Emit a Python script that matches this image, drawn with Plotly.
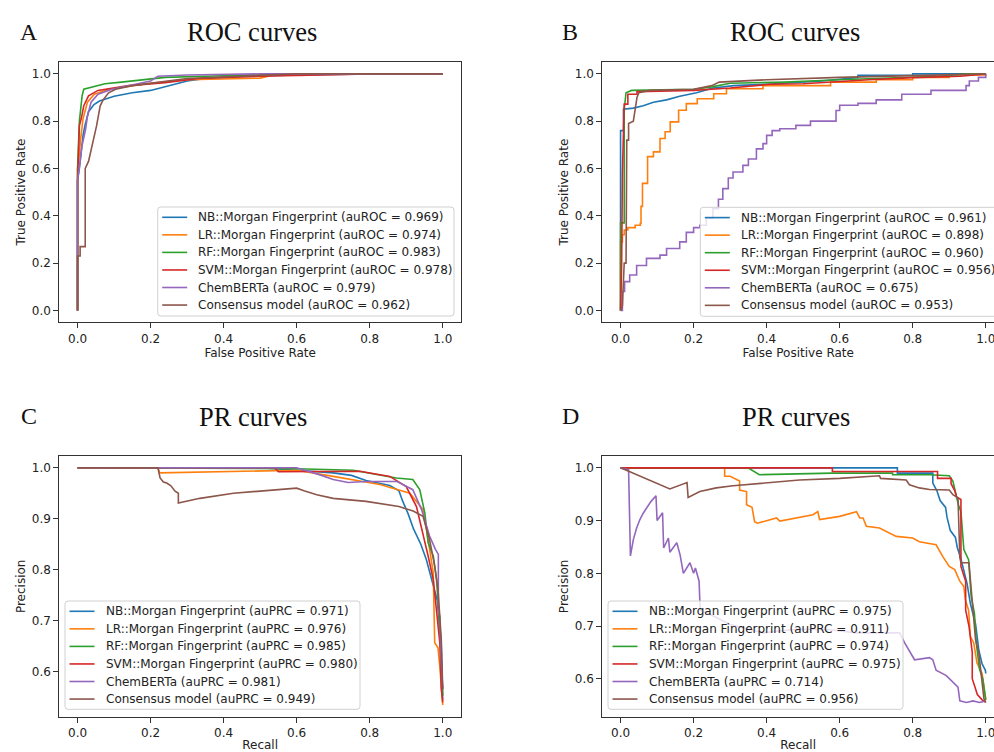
import plotly.graph_objects as go

W, H = 994, 752

# ---------------- labels ----------------
MODELS = ["NB::Morgan Fingerprint", "LR::Morgan Fingerprint", "RF::Morgan Fingerprint",
          "SVM::Morgan Fingerprint", "ChemBERTa", "Consensus model"]
AUROC_A = ["0.969", "0.974", "0.983", "0.978", "0.979", "0.962"]
AUROC_B = ["0.961", "0.898", "0.960", "0.956", "0.675", "0.953"]
AUPRC_C = ["0.971", "0.976", "0.985", "0.980", "0.981", "0.949"]
AUPRC_D = ["0.975", "0.911", "0.974", "0.975", "0.714", "0.956"]
TICKS = [0.0, 0.2, 0.4, 0.6, 0.8, 1.0]
PR_TICKS = [0.6, 0.7, 0.8, 0.9, 1.0]

# ---------------- panel A : ROC ----------------
A_NB_FPR = [0, 0, 0.005, 0.01, 0.015, 0.02, 0.03, 0.045, 0.06, 0.1, 0.15, 0.2, 0.25, 0.3, 0.35, 0.45, 0.6, 0.8, 1.0]
A_NB_TPR = [0, 0.55, 0.6, 0.68, 0.74, 0.78, 0.84, 0.87, 0.885, 0.905, 0.92, 0.93, 0.95, 0.97, 0.98, 0.99, 0.995, 1.0, 1.0]
A_LR_FPR = [0, 0, 0.005, 0.008, 0.015, 0.027, 0.046, 0.085, 0.2, 0.3, 0.5, 0.55, 1.0]
A_LR_TPR = [0, 0.6, 0.66, 0.72, 0.81, 0.88, 0.914, 0.935, 0.96, 0.975, 0.982, 1.0, 1.0]
A_RF_FPR = [0, 0, 0.005, 0.0125, 0.017, 0.03, 0.046, 0.075, 0.12, 0.18, 0.24, 0.35, 0.5, 0.6, 1.0]
A_RF_TPR = [0, 0.6, 0.8, 0.907, 0.935, 0.94, 0.945, 0.958, 0.965, 0.975, 0.985, 0.99, 0.995, 1.0, 1.0]
A_SVM_FPR = [0, 0, 0.005, 0.01, 0.017, 0.03, 0.056, 0.1, 0.14, 0.24, 0.33, 0.5, 0.8, 1.0]
A_SVM_TPR = [0, 0.55, 0.78, 0.81, 0.865, 0.907, 0.93, 0.94, 0.95, 0.963, 0.98, 0.99, 1.0, 1.0]
A_CB_FPR = [0, 0, 0.006, 0.012, 0.022, 0.027, 0.037, 0.056, 0.094, 0.15, 0.2, 0.22, 0.3, 0.5, 1.0]
A_CB_TPR = [0, 0.55, 0.62, 0.695, 0.765, 0.82, 0.88, 0.914, 0.935, 0.955, 0.97, 0.99, 0.995, 1.0, 1.0]
A_CM_FPR = [0, 0, 0.007, 0.007, 0.021, 0.021, 0.03, 0.043, 0.052, 0.062, 0.07, 0.085, 0.104, 0.15, 0.3, 0.6, 1.0]
A_CM_TPR = [0, 0.23, 0.23, 0.27, 0.27, 0.6, 0.63, 0.72, 0.78, 0.865, 0.89, 0.92, 0.935, 0.95, 0.98, 1.0, 1.0]

# ---------------- panel B : ROC ----------------
B_NB_FPR = [0, 0, 0, 0.008, 0.008, 0.035, 0.062, 0.09, 0.126, 0.162, 0.208, 0.253, 0.31, 0.4, 0.55, 0.65, 0.65, 0.8, 0.8, 1.0]
B_NB_TPR = [0, 0.585, 0.76, 0.76, 0.85, 0.855, 0.865, 0.88, 0.89, 0.905, 0.92, 0.94, 0.95, 0.956, 0.97, 0.984, 0.994, 0.994, 1.0, 1.0]
B_LR_FPR = [0, 0, 0.005, 0.01, 0.02, 0.04, 0.054, 0.056, 0.06, 0.074, 0.09, 0.108, 0.122, 0.136, 0.159, 0.18,
            0.21, 0.255, 0.29, 0.39, 0.575, 0.7, 0.8, 0.9, 1.0]
B_LR_TPR = [0, 0.29, 0.32, 0.34, 0.35, 0.36, 0.368, 0.44, 0.537, 0.65, 0.67, 0.727, 0.755, 0.797, 0.846, 0.874,
            0.895, 0.916, 0.937, 0.95, 0.965, 0.975, 0.985, 0.995, 1.0]
B_RF_FPR = [0, 0, 0.01, 0.01, 0.015, 0.03, 0.2, 0.25, 0.3, 0.45, 0.6, 0.8, 0.87, 0.95, 1.0]
B_RF_TPR = [0, 0.37, 0.37, 0.85, 0.92, 0.93, 0.935, 0.945, 0.96, 0.965, 0.975, 0.985, 0.99, 1.0, 1.0]
B_SVM_FPR = [0, 0.003, 0.005, 0.01, 0.02, 0.02, 0.045, 0.045, 0.2, 0.3, 0.41, 0.5, 0.68, 0.8, 0.93, 0.995, 1.0]
B_SVM_TPR = [0, 0.2, 0.58, 0.872, 0.872, 0.914, 0.914, 0.925, 0.93, 0.94, 0.956, 0.958, 0.975, 0.984, 0.99, 1.0, 1.0]
B_CB_FPR = [0, 0.005, 0.011, 0.025, 0.044, 0.071, 0.108, 0.126, 0.162, 0.18, 0.2, 0.217, 0.235, 0.253, 0.268,
            0.28, 0.295, 0.308, 0.335, 0.35, 0.372, 0.39, 0.4, 0.415, 0.436, 0.48, 0.52, 0.59, 0.6, 0.65,
            0.7, 0.77, 0.85, 0.946, 0.955, 0.98, 1.0]
B_CB_TPR = [0, 0.08, 0.122, 0.15, 0.19, 0.22, 0.234, 0.262, 0.29, 0.33, 0.35, 0.36, 0.39, 0.43, 0.47,
            0.515, 0.56, 0.585, 0.613, 0.64, 0.683, 0.705, 0.74, 0.76, 0.768, 0.782, 0.8, 0.845, 0.867, 0.875,
            0.89, 0.914, 0.93, 0.95, 0.97, 0.985, 1.0]
B_CM_FPR = [0, 0.005, 0.01, 0.015, 0.017, 0.022, 0.022, 0.035, 0.04, 0.045, 0.05, 0.08, 0.2, 0.25, 0.27, 0.4, 0.6, 0.75, 0.9, 0.99, 1.0]
B_CM_TPR = [0, 0.02, 0.2, 0.2, 0.72, 0.72, 0.79, 0.8, 0.85, 0.9, 0.92, 0.93, 0.935, 0.95, 0.965, 0.975, 0.985, 0.99, 0.995, 1.0, 1.0]

# ---------------- panel C : PR ----------------
C_NB_REC = [0, 0.5, 0.6, 0.7, 0.75, 0.79, 0.855, 0.88, 0.89, 0.905, 0.92, 0.94, 0.955, 0.97, 0.985, 0.99, 0.996, 1.0]
C_NB_PRE = [1, 1, 0.995, 0.99, 0.985, 0.975, 0.965, 0.955, 0.935, 0.91, 0.88, 0.85, 0.82, 0.78, 0.74, 0.7, 0.65, 0.545]
C_LR_REC = [0, 0.22, 0.225, 0.5, 0.6, 0.7, 0.828, 0.91, 0.946, 0.96, 0.974, 0.978, 0.987, 0.992, 1.0]
C_LR_PRE = [1, 1, 0.99, 0.993, 0.995, 0.983, 0.967, 0.95, 0.918, 0.859, 0.794, 0.657, 0.647, 0.61, 0.535]
C_RF_REC = [0, 0.6, 0.755, 0.873, 0.918, 0.937, 0.951, 0.96, 0.974, 0.983, 0.992, 0.996, 1.0]
C_RF_PRE = [1, 0.998, 0.995, 0.98, 0.977, 0.957, 0.911, 0.853, 0.827, 0.781, 0.683, 0.618, 0.553]
C_SVM_REC = [0, 0.54, 0.55, 0.773, 0.855, 0.9, 0.928, 0.946, 0.96, 0.974, 0.983, 0.992, 0.996, 1.0]
C_SVM_PRE = [1, 1, 0.992, 0.993, 0.983, 0.963, 0.924, 0.872, 0.827, 0.781, 0.716, 0.657, 0.567, 0.54]
C_CB_REC = [0, 0.6, 0.664, 0.7, 0.741, 0.791, 0.875, 0.918, 0.942, 0.964, 0.98, 0.988, 0.988, 0.992, 0.996, 1.0]
C_CB_PRE = [1, 1, 0.986, 0.977, 0.971, 0.973, 0.973, 0.957, 0.918, 0.866, 0.84, 0.83, 0.72, 0.709, 0.618, 0.566]
C_CM_REC = [0, 0.22, 0.226, 0.235, 0.244, 0.255, 0.267, 0.276, 0.276, 0.335, 0.427, 0.6, 0.62, 0.655, 0.7,
            0.79, 0.88, 0.919, 0.946, 0.964, 0.978, 0.987, 0.996, 1.0]
C_CM_PRE = [1, 1, 0.98, 0.972, 0.97, 0.965, 0.954, 0.95, 0.931, 0.94, 0.95, 0.96, 0.955, 0.947, 0.94,
            0.934, 0.924, 0.915, 0.905, 0.859, 0.807, 0.762, 0.664, 0.566]

# ---------------- panel D : PR ----------------
D_NB_REC = [0, 0.758, 0.758, 0.855, 0.855, 0.866, 0.875, 0.89, 0.894, 0.903, 0.917, 0.922, 0.931, 0.94,
            0.949, 0.958, 0.972, 0.981, 0.99, 0.999, 1.0]
D_NB_PRE = [1, 1, 0.99, 0.99, 0.971, 0.957, 0.938, 0.925, 0.906, 0.881, 0.868, 0.849, 0.83, 0.805,
            0.78, 0.742, 0.704, 0.654, 0.628, 0.616, 0.61]
D_LR_REC = [0, 0.285, 0.285, 0.3, 0.326, 0.326, 0.345, 0.345, 0.36, 0.367, 0.375, 0.427, 0.436, 0.527,
            0.54, 0.545, 0.6, 0.646, 0.655, 0.664, 0.673, 0.709, 0.755, 0.8, 0.818, 0.864, 0.882, 0.9,
            0.915, 0.929, 0.94, 0.944, 0.953, 0.958, 0.967, 0.976, 0.99, 0.995, 1.0]
D_LR_PRE = [1, 1, 0.984, 0.984, 0.975, 0.958, 0.955, 0.93, 0.925, 0.898, 0.895, 0.905, 0.899, 0.911,
            0.917, 0.902, 0.908, 0.917, 0.905, 0.905, 0.889, 0.886, 0.87, 0.867, 0.86, 0.854, 0.832, 0.813,
            0.807, 0.785, 0.775, 0.75, 0.73, 0.68, 0.668, 0.63, 0.61, 0.586, 0.56]
D_RF_REC = [0, 0.349, 0.38, 0.58, 0.745, 0.745, 0.845, 0.9, 0.91, 0.915, 0.925, 0.932, 0.94, 0.953,
            0.96, 0.969, 0.974, 0.983, 0.992, 1.0]
D_RF_PRE = [1, 1, 0.987, 0.99, 0.99, 0.987, 0.987, 0.985, 0.975, 0.96, 0.93, 0.917, 0.845, 0.826,
            0.756, 0.724, 0.668, 0.618, 0.599, 0.56]
D_SVM_REC = [0, 0.58, 0.58, 0.868, 0.868, 0.905, 0.905, 0.915, 0.92, 0.932, 0.932, 0.945, 0.945, 0.954,
             0.963, 0.963, 0.977, 0.99, 1.0]
D_SVM_PRE = [1, 1, 0.993, 0.993, 0.98, 0.98, 0.97, 0.957, 0.945, 0.94, 0.813, 0.785, 0.73, 0.7,
             0.65, 0.6, 0.57, 0.56, 0.555]
D_CB_REC = [0, 0.022, 0.027, 0.031, 0.035, 0.044, 0.053, 0.062, 0.071, 0.083, 0.097, 0.1, 0.115, 0.118,
            0.131, 0.135, 0.154, 0.163, 0.172, 0.19, 0.2, 0.205, 0.215, 0.218, 0.254, 0.3, 0.39, 0.482,
            0.573, 0.646, 0.764, 0.778, 0.805, 0.846, 0.855, 0.864, 0.892, 0.915, 0.924, 0.929, 0.947,
            0.965, 0.983, 1.0]
D_CB_PRE = [1, 0.996, 0.833, 0.85, 0.864, 0.886, 0.902, 0.914, 0.924, 0.936, 0.947, 0.9, 0.915, 0.848,
            0.867, 0.84, 0.858, 0.835, 0.8, 0.82, 0.8, 0.81, 0.785, 0.73, 0.719, 0.703, 0.687, 0.694,
            0.693, 0.687, 0.687, 0.668, 0.636, 0.64, 0.636, 0.616, 0.606, 0.59, 0.584, 0.558, 0.555,
            0.558, 0.555, 0.558]
D_CM_REC = [0, 0.135, 0.182, 0.185, 0.217, 0.262, 0.308, 0.4, 0.49, 0.6, 0.709, 0.712, 0.782, 0.791,
            0.818, 0.846, 0.9, 0.91, 0.924, 0.929, 0.932, 0.954, 0.958, 0.963, 0.972, 0.981, 0.99, 0.995, 1.0]
D_CM_PRE = [1, 0.96, 0.972, 0.944, 0.955, 0.962, 0.966, 0.971, 0.977, 0.98, 0.985, 0.98, 0.977, 0.968,
            0.962, 0.959, 0.958, 0.949, 0.943, 0.83, 0.82, 0.82, 0.787, 0.762, 0.674, 0.649, 0.593, 0.562, 0.555]

# ---------------- styling ----------------
COLORS = ["#1f77b4", "#ff7f0e", "#2ca02c", "#d62728", "#9467bd", "#8c564b"]
SANS = "DejaVu Sans"
SERIF = "Liberation Serif"
TXT = "#222222"

fig = go.Figure()

panels = [
    ("x", "y", "auROC", AUROC_A,
     [(A_NB_FPR, A_NB_TPR), (A_LR_FPR, A_LR_TPR), (A_RF_FPR, A_RF_TPR),
      (A_SVM_FPR, A_SVM_TPR), (A_CB_FPR, A_CB_TPR), (A_CM_FPR, A_CM_TPR)],
     ["linear"] * 6, (157.7, 207, 454, 316)),
    ("x2", "y2", "auROC", AUROC_B,
     [(B_NB_FPR, B_NB_TPR), (B_LR_FPR, B_LR_TPR), (B_RF_FPR, B_RF_TPR),
      (B_SVM_FPR, B_SVM_TPR), (B_CB_FPR, B_CB_TPR), (B_CM_FPR, B_CM_TPR)],
     ["linear", "hv", "linear", "linear", "hv", "linear"], (700.3, 207.3, 1008, 316.3)),
    ("x3", "y3", "auPRC", AUPRC_C,
     [(C_NB_REC, C_NB_PRE), (C_LR_REC, C_LR_PRE), (C_RF_REC, C_RF_PRE),
      (C_SVM_REC, C_SVM_PRE), (C_CB_REC, C_CB_PRE), (C_CM_REC, C_CM_PRE)],
     ["linear"] * 6, (65, 601, 360, 709.3)),
    ("x4", "y4", "auPRC", AUPRC_D,
     [(D_NB_REC, D_NB_PRE), (D_LR_REC, D_LR_PRE), (D_RF_REC, D_RF_PRE),
      (D_SVM_REC, D_SVM_PRE), (D_CB_REC, D_CB_PRE), (D_CM_REC, D_CM_PRE)],
     ["linear"] * 6, (608, 601, 903, 709.3)),
]


def px_x(p):
    return p / W


def px_y(p):
    return 1 - p / H


def add_legend(box, labels):
    left, top, right, bottom = box
    r = 3
    L, R = px_x(left), px_x(right)
    T, B = px_y(top), px_y(bottom)
    rx, ry = r / W, r / H
    path = (f"M {L+rx},{T} L {R-rx},{T} Q {R},{T} {R},{T-ry} L {R},{B+ry} Q {R},{B} {R-rx},{B} "
            f"L {L+rx},{B} Q {L},{B} {L},{B+ry} L {L},{T-ry} Q {L},{T} {L+rx},{T} Z")
    fig.add_shape(type="path", path=path, xref="paper", yref="paper", layer="above",
                  fillcolor="rgba(255,255,255,0.8)", line=dict(color="#d0d0d0", width=1))
    for i, lab in enumerate(labels):
        yy = px_y(top + 10.3 + 17.55 * i)
        fig.add_shape(type="line", xref="paper", yref="paper", layer="above",
                      x0=px_x(left + 4.5), x1=px_x(left + 29.5), y0=yy, y1=yy,
                      line=dict(color=COLORS[i], width=1.6))
        fig.add_annotation(text=lab, x=px_x(left + 38.5), y=yy, xref="paper", yref="paper",
                           xanchor="left", yanchor="middle", showarrow=False,
                           font=dict(family=SANS, size=12, color=TXT))


for xa, ya, metric, scores, series, shapes, box in panels:
    labels = []
    for i, ((xs, ys), sc) in enumerate(zip(series, scores)):
        name = f"{MODELS[i]} ({metric} = {sc})"
        labels.append(name)
        fig.add_trace(go.Scatter(
            x=xs, y=ys, mode="lines", xaxis=xa, yaxis=ya, name=name, showlegend=False,
            line=dict(color=COLORS[i], width=1.6, shape=shapes[i]),
            hoverinfo="skip"))
    add_legend(box, labels)


axis_common = dict(showgrid=False, zeroline=False, showline=True, linecolor="#333333", linewidth=1,
                   ticks="outside", ticklen=5, tickwidth=1, tickcolor="#333333",
                   ticklabeloverflow="allow",
                   tickfont=dict(family=SANS, size=12, color=TXT))

LEFT_X = [px_x(59.3), px_x(461)]
RIGHT_X = [px_x(602.3), 1.0]
TOP_Y = [px_y(322.3), px_y(62)]
BOT_Y = [px_y(716.7), px_y(456)]
right_span = (994 - 602.3) / 365.2


def xax(domain, anchor, title, rng, mirror):
    return dict(axis_common, domain=domain, anchor=anchor, range=rng, mirror=mirror,
                tickvals=TICKS, tickformat=".1f",
                title=dict(text=title, font=dict(family=SANS, size=12, color=TXT), standoff=3))


def yax(domain, anchor, title, rng, ticks, mirror):
    return dict(axis_common, domain=domain, anchor=anchor, range=rng, mirror=mirror,
                tickvals=ticks, tickformat=".1f",
                title=dict(text=title, font=dict(family=SANS, size=12, color=TXT), standoff=3))


fig.update_layout(
    width=W, height=H, margin=dict(l=0, r=0, t=0, b=0, autoexpand=False),
    paper_bgcolor="white", plot_bgcolor="white", showlegend=False,
    xaxis=xax(LEFT_X, "y", "False Positive Rate", [-0.05, 1.05], True),
    yaxis=yax(TOP_Y, "x", "True Positive Rate", [-0.05, 1.05], TICKS, True),
    xaxis2=xax(RIGHT_X, "y2", "False Positive Rate", [-0.05, -0.05 + right_span], True),
    yaxis2=yax(TOP_Y, "x2", "True Positive Rate", [-0.05, 1.05], TICKS, False),
    xaxis3=xax(LEFT_X, "y3", "Recall", [-0.05, 1.05], True),
    yaxis3=yax(BOT_Y, "x3", "Precision", [0.512, 1.023], PR_TICKS, True),
    xaxis4=xax(RIGHT_X, "y4", "Recall", [-0.05, -0.05 + right_span], True),
    yaxis4=yax(BOT_Y, "x4", "Precision", [0.528, 1.0225], PR_TICKS, False),
)

# panel letters and titles
texts = [("A", 29, 32, 24), ("B", 570, 32, 24), ("C", 29, 416, 24), ("D", 570, 416, 24),
         ("ROC curves", 252, 32, 26.5), ("ROC curves", 795, 32, 26.5),
         ("PR curves", 253, 417, 26.5), ("PR curves", 796, 417, 26.5)]
for t, xp, yp, sz in texts:
    fig.add_annotation(text=t, x=px_x(xp), y=px_y(yp), xref="paper", yref="paper",
                       xanchor="center", yanchor="middle", showarrow=False,
                       font=dict(family=SERIF, size=sz, color="#111111"))

fig.write_html("out.html", config={"displayModeBar": False},
               post_script="document.body.style.margin='0px';")
